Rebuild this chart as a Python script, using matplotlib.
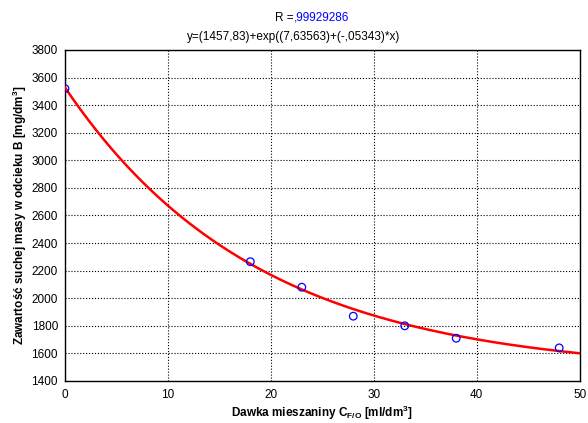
import numpy as np
import matplotlib
matplotlib.use("Agg")
import matplotlib.pyplot as plt

plt.rcParams['font.family'] = ['Liberation Sans', 'DejaVu Sans']

# measured points
dose = [0, 18, 23, 28, 33, 38, 48]
solids = [3520, 2265, 2080, 1870, 1800, 1710, 1640]

# fitted model y = a + exp(b + c*x)
fit_a = 1457.83
fit_b = 7.63563
fit_c = -0.05343

xs = np.linspace(0, 50, 200)
ys = fit_a + np.exp(fit_b + fit_c * xs)

fig = plt.figure(figsize=(5.88, 4.23), dpi=100)
ax = fig.add_axes([0.1105, 0.0993, 0.8755, 0.7825])

ax.plot(xs, ys, color='red', lw=1.8, zorder=3)
ax.scatter(dose, solids, s=30, facecolors='none', edgecolors='blue', linewidths=0.9, zorder=4)

ax.set_xlim(0, 50)
ax.set_ylim(1400, 3800)
ax.set_xticks(range(0, 51, 10))
ax.set_yticks(range(1400, 3801, 200))
ax.grid(True, color='black', linestyle=':', linewidth=0.8)
ax.tick_params(labelsize=8.5, length=0)
ax.tick_params(axis='x', pad=6)
ax.tick_params(axis='y', pad=5)
for s in ax.spines.values():
    s.set_linewidth(1.0)

ax.set_xlabel(r'Dawka mieszaniny C$_{\mathregular{F/O}}$ [ml/dm$^{\mathregular{3}}$]',
              fontsize=8.5, fontweight='bold', labelpad=2)
ax.set_ylabel(r'Zawartość suchej masy w odcieku B [mg/dm$^{\mathregular{3}}$]',
              fontsize=8.5, fontweight='bold', labelpad=2)

fig.text(0.5, 0.958, 'R =', ha='right', va='center', fontsize=8.5)
fig.text(0.5, 0.958, ',99929286', ha='left', va='center', fontsize=8.5, color='blue')
fig.text(0.5, 0.913, 'y=(1457,83)+exp((7,63563)+(-,05343)*x)', ha='center', va='center', fontsize=8.5)

fig.savefig('out.png', dpi=100)
